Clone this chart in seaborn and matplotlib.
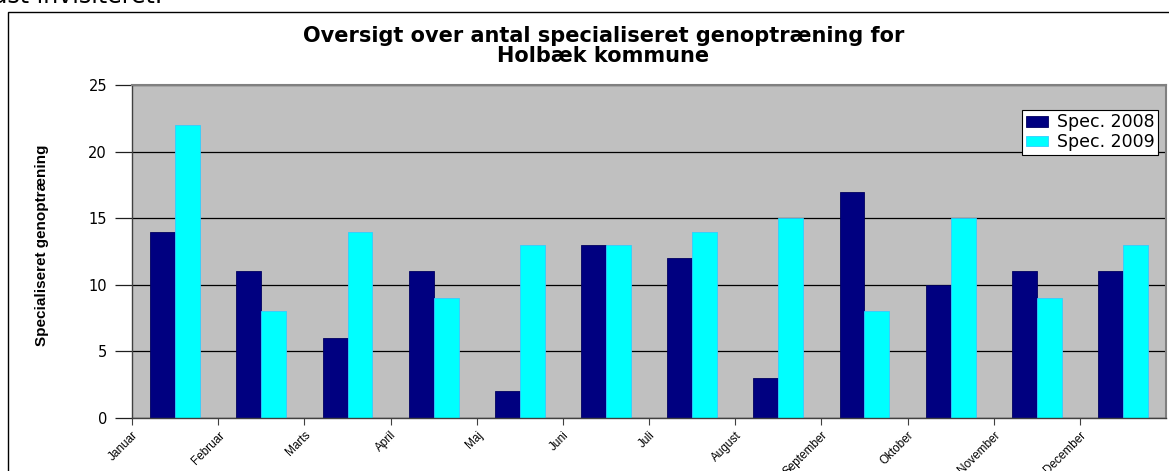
import pandas as pd
import matplotlib
matplotlib.use("Agg")
import matplotlib.pyplot as plt
import seaborn as sns
from matplotlib.patches import Rectangle

# Data
months = ["Januar", "Februar", "Marts", "April", "Maj", "Juni",
          "Juli", "August", "September", "Oktober", "November", "December"]
spec_2008 = [14, 11, 6, 11, 2, 13, 12, 3, 17, 10, 11, 11]
spec_2009 = [22, 8, 14, 9, 13, 13, 14, 15, 8, 15, 9, 13]
series_names = ["Spec. 2008", "Spec. 2009"]
y_ticks = [0, 5, 10, 15, 20, 25]

df = pd.DataFrame({
    "month": months * 2,
    "antal": spec_2008 + spec_2009,
    "serie": [series_names[0]] * len(months) + [series_names[1]] * len(months),
})

sns.set_style("white")
plt.rcParams["font.family"] = ["DejaVu Sans"]
plt.rcParams["text.color"] = "black"
plt.rcParams["xtick.color"] = "black"
plt.rcParams["ytick.color"] = "black"

fig = plt.figure(figsize=(11.69, 4.71), dpi=100)
ax = fig.add_axes([0.113, 0.1125, 0.8845, 0.707])

# outer chart frame
fig.patches.append(Rectangle((8 / 1169, -0.1), 1.2, 1 - 12 / 471 + 0.1,
                             transform=fig.transFigure, fill=False,
                             edgecolor="black", linewidth=1.0, zorder=0))

ax.set_facecolor("#C0C0C0")
ax.set_axisbelow(True)

sns.barplot(data=df, x="month", y="antal", hue="serie", order=months,
            palette=["#000080", "#00FFFF"], width=0.58, saturation=1,
            ax=ax, zorder=2)
for p in ax.patches:
    if p.get_facecolor()[0] < 0.1 and p.get_facecolor()[1] > 0.9:
        p.set_edgecolor("#33CCFF")
    else:
        p.set_edgecolor("#000060")
    p.set_linewidth(0.6)

ax.set_xlim(-0.5, len(months) - 0.5)
ax.set_ylim(0, 25)
ax.set_yticks(y_ticks)
ax.set_yticklabels([str(t) for t in y_ticks], fontsize=10.5)
ax.yaxis.grid(True, color="black", linewidth=0.9)
ax.xaxis.grid(False)

ax.set_xticks([i - 0.5 for i in range(len(months))])
ax.set_xticklabels(months, rotation=45, ha="right", rotation_mode="anchor",
                   fontsize=8.5, family=["Liberation Sans Narrow", "Liberation Sans"])
ax.tick_params(axis="y", left=True, direction="out", length=12, width=0.9,
               color="#202020", labelcolor="black", pad=6)
ax.tick_params(axis="x", bottom=True, direction="out", length=5, width=0.8,
               color="#404040", labelcolor="black", pad=3)
ax.set_xlabel("")
ax.set_ylabel("")

for side in ["top", "right"]:
    ax.spines[side].set_color("#808080")
    ax.spines[side].set_linewidth(1.5)
for side in ["left", "bottom"]:
    ax.spines[side].set_color("#404040")
    ax.spines[side].set_linewidth(1.0)

leg = ax.legend(loc="upper right", bbox_to_anchor=(0.9925, 0.925), fontsize=12.5,
                frameon=True, fancybox=False, edgecolor="black", framealpha=1,
                borderpad=0.2, handlelength=1.3, handleheight=0.55,
                handletextpad=0.5, labelspacing=0.1, borderaxespad=0)
leg.get_frame().set_linewidth(0.8)
for t in leg.get_texts():
    t.set_color("black")

fig.text(0.516, 0.902, "Oversigt over antal specialiseret genoptræning for\nHolbæk kommune",
         ha="center", va="center", fontsize=15, fontweight="bold", linespacing=1.0,
         color="black")
fig.text(0.036, 0.48, "Specialiseret genoptræning", rotation=90,
         ha="center", va="center", fontsize=11, fontweight="bold",
         family=["Liberation Sans Narrow", "Liberation Sans"])
fig.text(-0.006, 1 - 3 / 471, "ast invisiteret.", ha="left", va="baseline", fontsize=17)

fig.savefig("out.png", dpi=100)
